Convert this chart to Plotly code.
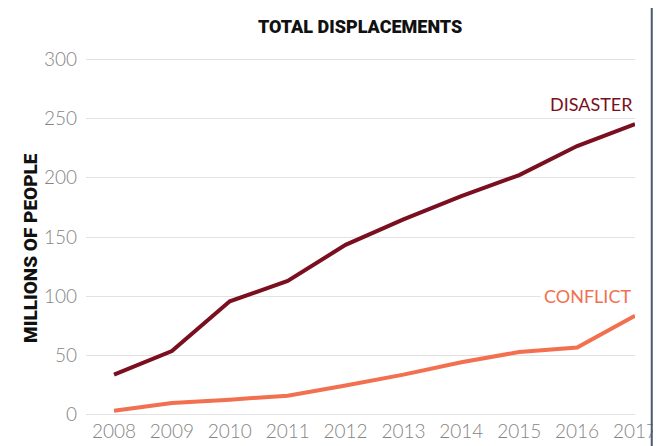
import plotly.graph_objects as go

years = [2008, 2009, 2010, 2011, 2012, 2013, 2014, 2015, 2016, 2017]
disaster = [33.9, 53.8, 95.8, 112.9, 143.4, 164.8, 184.5, 202.2, 226.7, 245.3]
conflict = [3.5, 9.9, 12.8, 16.1, 24.8, 33.9, 44.4, 53.0, 56.8, 83.5]
y_ticks = [0, 50, 100, 150, 200, 250, 300]

DIS_COL = "#7a0f20"
CON_COL = "#f2704f"
TICK_FONT = dict(family="Lato, Open Sans, sans-serif", size=19, color="#858585", weight=300)

fig = go.Figure()
fig.add_trace(go.Scatter(x=years, y=disaster, mode="lines",
                         line=dict(color=DIS_COL, width=4), cliponaxis=False,
                         name="Disaster", showlegend=False))
fig.add_trace(go.Scatter(x=years, y=conflict, mode="lines",
                         line=dict(color=CON_COL, width=4), cliponaxis=False,
                         name="Conflict", showlegend=False))

fig.update_layout(
    width=661, height=446,
    margin=dict(l=78, r=26, t=50, b=27),
    paper_bgcolor="white", plot_bgcolor="white",
    xaxis=dict(range=[2007.516, 2017.0], tickvals=years, ticktext=[str(y) for y in years],
               showgrid=False, zeroline=False, showline=False, tickfont=TICK_FONT,
               ticks="", ticklabelstandoff=2),
    yaxis=dict(range=[-1, 301], tickvals=y_ticks, showgrid=True, gridcolor="#e2e2e2",
               gridwidth=1, zeroline=False, showline=False, tickfont=TICK_FONT,
               ticks="", ticklabelstandoff=8),
    annotations=[
        dict(text="TOTAL DISPLACEMENTS", xref="paper", yref="paper",
             x=(356 - 78) / 557, y=1.0, yshift=32, xanchor="center", yanchor="middle",
             showarrow=False,
             font=dict(family="Roboto, sans-serif", size=18, color="#111111", weight=900)),
        dict(text="MILLIONS OF PEOPLE", xref="paper", yref="paper",
             x=0, xshift=-56, y=0.5, yshift=-11, textangle=-90, xanchor="center", yanchor="middle",
             showarrow=False,
             font=dict(family="Roboto, sans-serif", size=19, color="#111111", weight=900)),
        dict(text="DISASTER", x=2017, y=262.4, xref="x", yref="y", xanchor="right",
             yanchor="middle", showarrow=False,
             font=dict(family="Lato, Open Sans, sans-serif", size=18, color=DIS_COL)),
        dict(text="CONFLICT", x=2017, y=100, xref="x", yref="y", xanchor="right",
             yanchor="middle", showarrow=False, bgcolor="white", borderpad=3,
             font=dict(family="Lato, Open Sans, sans-serif", size=18, color=CON_COL)),
    ],
    shapes=[
        dict(type="line", xref="paper", yref="paper", x0=(652 - 78) / 557, x1=(652 - 78) / 557,
             y0=-0.2, y1=1.2, line=dict(color="#4b5a6e", width=2)),
    ],
)

fig.write_html("out.html")
